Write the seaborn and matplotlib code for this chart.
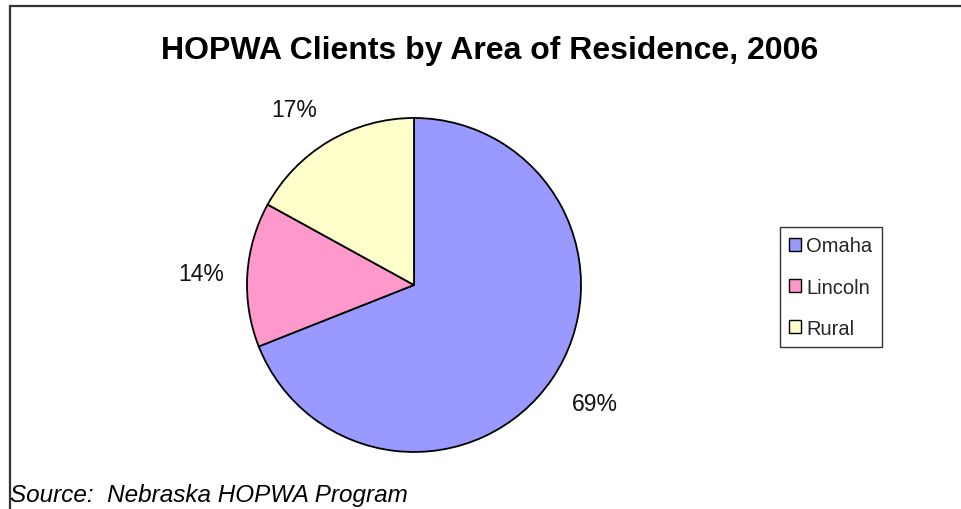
import matplotlib.pyplot as plt
import matplotlib.patches as mpatches
import seaborn as sns

# --- Data ---
areas = ["Omaha", "Lincoln", "Rural"]
shares = [69, 14, 17]
colors = ["#9999FF", "#FF99CC", "#FFFFCC"]
title = "HOPWA Clients by Area of Residence, 2006"
source = "Source:  Nebraska HOPWA Program"

sns.set_theme(style="white")
plt.rcParams["font.family"] = ["Liberation Sans", "DejaVu Sans"]

fig = plt.figure(figsize=(9.61, 5.10), dpi=100)
fig.patch.set_facecolor("white")

# outer frame (left and top edges visible, like the Excel chart area)
frame = mpatches.Rectangle((9.5 / 961, -0.05), 1.2, 1 - 6.5 / 510 + 0.05,
                           transform=fig.transFigure, fill=False,
                           edgecolor="#333333", linewidth=1.6, zorder=0)
fig.patches.append(frame)

# pie axes sized so that radius ~167 px, centre ~(414, 286)
ax = fig.add_axes([0.2570, 0.1118, 0.3476, 0.6549])
wedges, texts = ax.pie(
    shares,
    colors=colors,
    startangle=90,
    counterclock=False,
    labels=[f"{s}%" for s in shares],
    labeldistance=1.14,
    wedgeprops=dict(edgecolor="black", linewidth=1.3),
    textprops=dict(fontsize=16.5, color="#111111"),
)
ax.set_xlim(-1, 1)
ax.set_ylim(-1, 1)
ax.set_aspect("equal")
ax.axis("off")
# Excel-like placement: label corner sits just outside the slice midpoint
for t in texts:
    y = t.get_position()[1]
    if y > 0.3:
        t.set_verticalalignment("bottom")
    elif y < -0.3:
        t.set_verticalalignment("top")
    else:
        t.set_verticalalignment("center")

fig.text(0.509, 0.900, title, ha="center", va="center",
         fontsize=23, fontweight="bold", color="black")
fig.text(10 / 961, 1 - 502 / 510, source, ha="left", va="baseline",
         fontsize=17.5, style="italic", color="black")

leg = fig.legend(wedges, areas, loc="center",
                 bbox_to_anchor=(831 / 961, 1 - 288 / 510),
                 frameon=True, fontsize=14.5, handlelength=0.6,
                 handleheight=0.6, handletextpad=0.25, borderpad=0.45,
                 labelspacing=1.1, borderaxespad=0, fancybox=False)
leg.get_frame().set_edgecolor("black")
leg.get_frame().set_linewidth(1.0)
for h in leg.legend_handles:
    h.set_linewidth(1.0)

fig.savefig("out.png", dpi=100)
